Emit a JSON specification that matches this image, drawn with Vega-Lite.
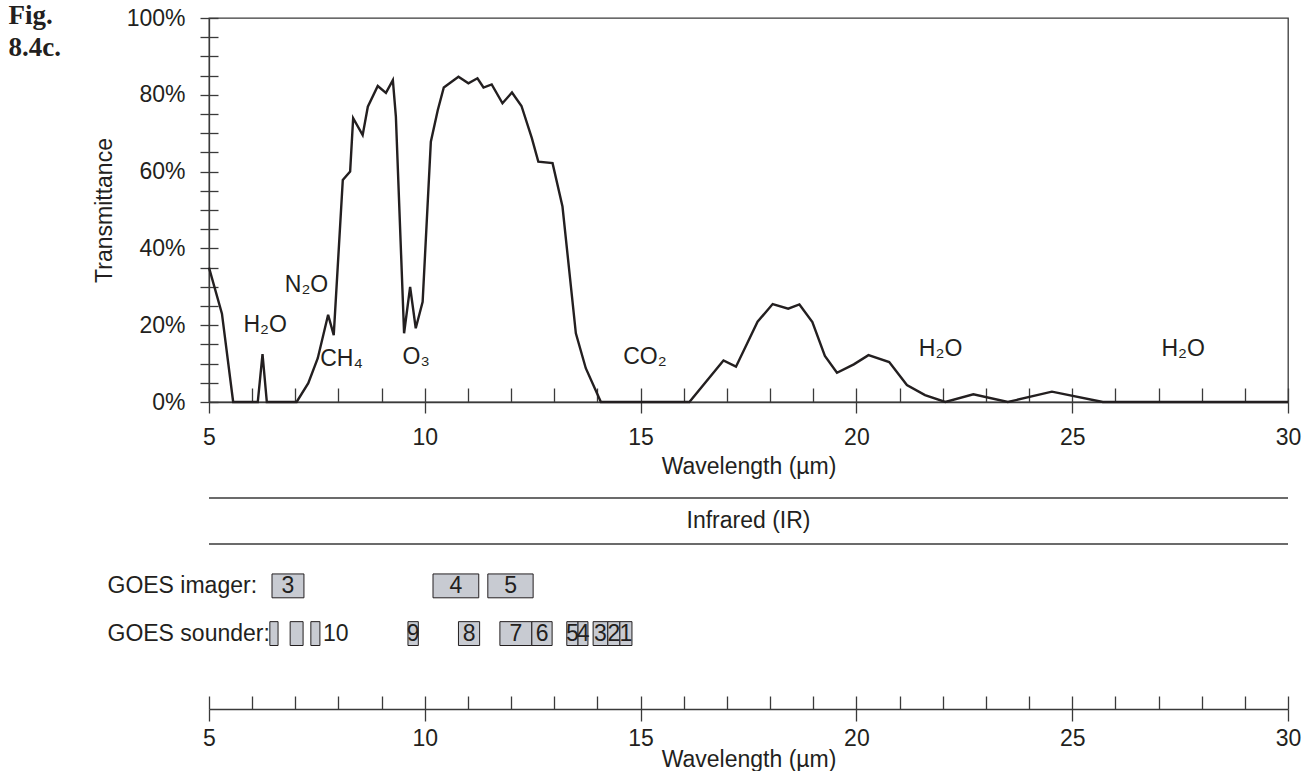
{
  "$schema": "https://vega.github.io/schema/vega-lite/v6.json",
  "padding": {"left": 8, "top": 2, "right": 10, "bottom": 0},
  "autosize": {"type": "pad"},
  "background": "white",
  "title": {
    "text": ["Fig.", "8.4c."],
    "orient": "top",
    "anchor": "start",
    "frame": "bounds",
    "font": "Liberation Serif",
    "fontSize": 27,
    "fontWeight": "bold",
    "lineHeight": 32,
    "color": "#231f20",
    "dx": -84,
    "offset": -56
  },
  "spacing": 18,
  "config": {
    "font": "Liberation Sans",
    "view": {"stroke": null},
    "axis": {
      "labelFont": "Liberation Sans",
      "labelFontSize": 23,
      "labelColor": "#231f20",
      "titleFont": "Liberation Sans",
      "titleFontSize": 23,
      "titleFontWeight": "normal",
      "titleColor": "#231f20",
      "domainColor": "#3a3a3a",
      "tickColor": "#3a3a3a",
      "domainWidth": 1.3,
      "tickWidth": 1.3,
      "grid": false,
      "labelOverlap": false,
      "labelFlush": false
    },
    "text": {"font": "Liberation Sans", "fontSize": 23, "color": "#231f20"}
  },
  "datasets": {
    "transmittance": [
      {"wavelength": 5.0, "transmittance": 35},
      {"wavelength": 5.3, "transmittance": 23},
      {"wavelength": 5.56, "transmittance": 0},
      {"wavelength": 6.13, "transmittance": 0},
      {"wavelength": 6.24, "transmittance": 12.5},
      {"wavelength": 6.34, "transmittance": 0},
      {"wavelength": 7.03, "transmittance": 0},
      {"wavelength": 7.3, "transmittance": 4.9},
      {"wavelength": 7.52, "transmittance": 11.4},
      {"wavelength": 7.76, "transmittance": 22.7},
      {"wavelength": 7.89, "transmittance": 17.4},
      {"wavelength": 8.1, "transmittance": 57.8},
      {"wavelength": 8.27, "transmittance": 60},
      {"wavelength": 8.34, "transmittance": 73.9},
      {"wavelength": 8.56, "transmittance": 69.5},
      {"wavelength": 8.68, "transmittance": 76.9},
      {"wavelength": 8.91, "transmittance": 82.3},
      {"wavelength": 9.1, "transmittance": 80.5},
      {"wavelength": 9.26, "transmittance": 83.8},
      {"wavelength": 9.33, "transmittance": 74.3},
      {"wavelength": 9.52, "transmittance": 17.9},
      {"wavelength": 9.66, "transmittance": 30},
      {"wavelength": 9.79, "transmittance": 19.2},
      {"wavelength": 9.95, "transmittance": 26.1},
      {"wavelength": 10.14, "transmittance": 67.8},
      {"wavelength": 10.3, "transmittance": 76},
      {"wavelength": 10.44, "transmittance": 81.9},
      {"wavelength": 10.78, "transmittance": 84.7},
      {"wavelength": 11.01, "transmittance": 83},
      {"wavelength": 11.22, "transmittance": 84.3},
      {"wavelength": 11.36, "transmittance": 81.9},
      {"wavelength": 11.55, "transmittance": 82.7},
      {"wavelength": 11.8, "transmittance": 77.8},
      {"wavelength": 12.02, "transmittance": 80.6},
      {"wavelength": 12.24, "transmittance": 77.1},
      {"wavelength": 12.48, "transmittance": 68.7},
      {"wavelength": 12.63, "transmittance": 62.6},
      {"wavelength": 12.96, "transmittance": 62.2},
      {"wavelength": 13.19, "transmittance": 50.9},
      {"wavelength": 13.5, "transmittance": 17.9},
      {"wavelength": 13.73, "transmittance": 8.8},
      {"wavelength": 14.08, "transmittance": 0},
      {"wavelength": 16.13, "transmittance": 0},
      {"wavelength": 16.92, "transmittance": 10.8},
      {"wavelength": 17.21, "transmittance": 9.2},
      {"wavelength": 17.71, "transmittance": 20.9},
      {"wavelength": 18.06, "transmittance": 25.5},
      {"wavelength": 18.42, "transmittance": 24.3},
      {"wavelength": 18.68, "transmittance": 25.4},
      {"wavelength": 18.98, "transmittance": 20.8},
      {"wavelength": 19.27, "transmittance": 12},
      {"wavelength": 19.55, "transmittance": 7.6},
      {"wavelength": 19.94, "transmittance": 9.8},
      {"wavelength": 20.28, "transmittance": 12.2},
      {"wavelength": 20.76, "transmittance": 10.4},
      {"wavelength": 21.17, "transmittance": 4.4},
      {"wavelength": 21.59, "transmittance": 1.8},
      {"wavelength": 22.06, "transmittance": 0},
      {"wavelength": 22.71, "transmittance": 2},
      {"wavelength": 23.51, "transmittance": 0},
      {"wavelength": 24.53, "transmittance": 2.7},
      {"wavelength": 25.71, "transmittance": 0},
      {"wavelength": 30, "transmittance": 0}
    ],
    "gases": [
      {"gas": "H₂O", "wavelength": 6.3, "transmittance": 20},
      {"gas": "N₂O", "wavelength": 7.26, "transmittance": 30.5},
      {"gas": "CH₄", "wavelength": 8.07, "transmittance": 11.2},
      {"gas": "O₃", "wavelength": 9.8, "transmittance": 11.6},
      {"gas": "CO₂", "wavelength": 15.1, "transmittance": 11.8},
      {"gas": "H₂O", "wavelength": 21.95, "transmittance": 13.8},
      {"gas": "H₂O", "wavelength": 27.57, "transmittance": 13.8}
    ],
    "region": [
      {"name": "Infrared (IR)", "start": 5, "end": 30}
    ],
    "channels": [
      {"instrument": "GOES imager:", "channel": "3", "label": "3", "from": 6.46, "to": 7.2, "center": 6.83},
      {"instrument": "GOES imager:", "channel": "4", "label": "4", "from": 10.19, "to": 11.25, "center": 10.72},
      {"instrument": "GOES imager:", "channel": "5", "label": "5", "from": 11.46, "to": 12.51, "center": 11.99},
      {"instrument": "GOES sounder:", "channel": "12", "label": "", "from": 6.41, "to": 6.6, "center": 6.51},
      {"instrument": "GOES sounder:", "channel": "11", "label": "", "from": 6.88, "to": 7.18, "center": 7.02},
      {"instrument": "GOES sounder:", "channel": "10", "label": "10", "from": 7.36, "to": 7.57, "center": 7.43},
      {"instrument": "GOES sounder:", "channel": "9", "label": "9", "from": 9.61, "to": 9.85, "center": 9.73},
      {"instrument": "GOES sounder:", "channel": "8", "label": "8", "from": 10.78, "to": 11.27, "center": 11.03},
      {"instrument": "GOES sounder:", "channel": "7", "label": "7", "from": 11.74, "to": 12.48, "center": 12.11},
      {"instrument": "GOES sounder:", "channel": "6", "label": "6", "from": 12.48, "to": 12.95, "center": 12.72},
      {"instrument": "GOES sounder:", "channel": "5", "label": "5", "from": 13.29, "to": 13.55, "center": 13.42},
      {"instrument": "GOES sounder:", "channel": "4", "label": "4", "from": 13.55, "to": 13.78, "center": 13.67},
      {"instrument": "GOES sounder:", "channel": "3", "label": "3", "from": 13.9, "to": 14.24, "center": 14.07},
      {"instrument": "GOES sounder:", "channel": "2", "label": "2", "from": 14.24, "to": 14.52, "center": 14.38},
      {"instrument": "GOES sounder:", "channel": "1", "label": "1", "from": 14.52, "to": 14.8, "center": 14.66}
    ]
  },
  "vconcat": [
    {
      "width": 1079,
      "height": 384,
      "view": {"stroke": "#3a3a3a", "strokeWidth": 1.3},
      "layer": [
        {
          "data": {"name": "transmittance"},
          "mark": {"type": "line", "color": "#231f20", "strokeWidth": 2.4, "strokeJoin": "miter"},
          "encoding": {
            "x": {
              "field": "wavelength", "type": "quantitative",
              "scale": {"domain": [5, 30], "nice": false, "zero": false},
              "axis": {"orient": "bottom", "title": "Wavelength (µm)", "values": [5, 10, 15, 20, 25, 30], "tickSize": 11, "labelPadding": 13, "titlePadding": 6}
            },
            "y": {
              "field": "transmittance", "type": "quantitative",
              "scale": {"domain": [0, 100], "nice": false, "zero": true},
              "axis": {"orient": "left", "title": "Transmittance", "values": [0, 5, 10, 15, 20, 25, 30, 35, 40, 45, 50, 55, 60, 65, 70, 75, 80, 85, 90, 95, 100], "tickSize": 9, "labelPadding": 15, "titlePadding": 10, "labelExpr": "datum.value % 20 === 0 ? datum.value + '%' : ''"}
            }
          }
        },
        {
          "data": {"name": "gases"},
          "mark": {"type": "text", "align": "center", "baseline": "middle"},
          "encoding": {
            "x": {
              "field": "wavelength", "type": "quantitative",
              "axis": {"orient": "bottom", "title": null, "labels": false, "domain": false, "values": [5, 6, 7, 8, 9, 10, 11, 12, 13, 14, 15, 16, 17, 18, 19, 20, 21, 22, 23, 24, 25, 26, 27, 28, 29, 30], "tickSize": -14}
            },
            "y": {
              "field": "transmittance", "type": "quantitative",
              "axis": {"orient": "left", "title": null, "labels": false, "domain": false, "values": [0, 5, 10, 15, 20, 25, 30, 35, 40, 45, 50, 55, 60, 65, 70, 75, 80, 85, 90, 95, 100], "tickSize": -9}
            },
            "text": {"field": "gas"}
          }
        }
      ],
      "resolve": {"axis": {"x": "independent", "y": "independent"}}
    },
    {
      "width": 1079,
      "height": 46,
      "data": {"name": "region"},
      "layer": [
        {
          "mark": {"type": "rule", "color": "#3a3a3a", "strokeWidth": 1.3},
          "encoding": {
            "x": {"field": "start", "type": "quantitative", "scale": {"domain": [5, 30], "nice": false, "zero": false}, "axis": null},
            "x2": {"field": "end"},
            "y": {"datum": 1, "type": "quantitative", "scale": {"domain": [0, 1]}, "axis": null}
          }
        },
        {
          "mark": {"type": "rule", "color": "#3a3a3a", "strokeWidth": 1.3},
          "encoding": {
            "x": {"field": "start", "type": "quantitative"},
            "x2": {"field": "end"},
            "y": {"datum": 0, "type": "quantitative"}
          }
        },
        {
          "mark": {"type": "text", "align": "center", "baseline": "middle"},
          "encoding": {"text": {"field": "name"}}
        }
      ]
    },
    {
      "width": 1079,
      "height": 146,
      "data": {"name": "channels"},
      "layer": [
        {
          "mark": {"type": "rect", "fill": "#c8cbd2", "stroke": "#231f20", "strokeWidth": 1},
          "encoding": {
            "x": {
              "field": "from", "type": "quantitative",
              "scale": {"domain": [5, 30], "nice": false, "zero": false},
              "axis": {"orient": "bottom", "title": "Wavelength (µm)", "values": [5, 10, 15, 20, 25, 30], "tickSize": 12, "labelPadding": 6, "titlePadding": -2}
            },
            "x2": {"field": "to"},
            "y": {
              "field": "instrument", "type": "nominal",
              "scale": {"domain": ["GOES imager:", "GOES sounder:"], "paddingInner": 0.5, "paddingOuter": 0.78, "align": 0.147},
              "axis": {"orient": "left", "title": null, "domain": false, "ticks": false, "tickSize": 0, "labelAlign": "left", "labelBaseline": "middle", "labelPadding": 102, "labelLimit": 0}
            }
          }
        },
        {
          "transform": [{"filter": "datum.label !== '' && datum.label !== '10'"}],
          "mark": {"type": "text", "align": "center", "baseline": "middle"},
          "encoding": {
            "x": {
              "field": "center", "type": "quantitative",
              "axis": {"orient": "bottom", "title": null, "labels": false, "domain": false, "values": [5, 6, 7, 8, 9, 10, 11, 12, 13, 14, 15, 16, 17, 18, 19, 20, 21, 22, 23, 24, 25, 26, 27, 28, 29, 30], "tickSize": -13}
            },
            "y": {"field": "instrument", "type": "nominal"},
            "text": {"field": "label"}
          }
        },
        {
          "transform": [{"filter": "datum.label === '10'"}],
          "mark": {"type": "text", "align": "left", "baseline": "middle", "dx": 3},
          "encoding": {
            "x": {"field": "to", "type": "quantitative", "axis": null},
            "y": {"field": "instrument", "type": "nominal"},
            "text": {"field": "label"}
          }
        }
      ],
      "resolve": {"axis": {"x": "independent"}}
    }
  ]
}
